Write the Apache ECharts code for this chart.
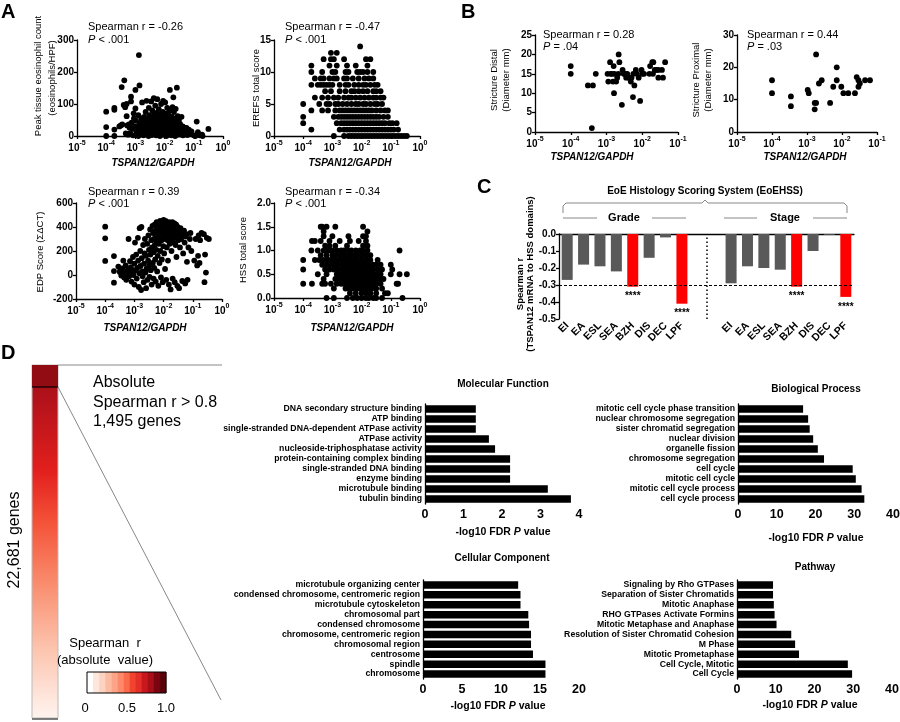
<!DOCTYPE html>
<html><head><meta charset="utf-8">
<script src="https://cdn.jsdelivr.net/npm/echarts@6/dist/echarts.min.js"></script>
<style>html,body{margin:0;padding:0;background:#fff}#c{width:900px;height:722px}</style>
</head><body><div id="c"></div>
<script>
// ================= DATA (x = log10 of TSPAN12/GAPDH) =================
const eosCount = [[-4,76],[-4,28],[-4,0],[-3.72,88],[-3.72,82],[-3.72,20],[-3.72,0],
[-3.55,30],[-3.5,33],[-3.47,153],[-3.45,36],[-3.4,97],[-3.38,174],[-3.35,90],[-3.33,8],[-3.3,100],[-3.3,62],[-3.28,33],[-3.25,4],[-3.22,36],[-3.2,26],[-3.18,9],[-3.15,123],[-3.15,108],[-3.13,42],[-3.1,22],[-3.08,2],[-3.06,71],[-3.05,55],[-3.02,30],[-3.0,144],[-3.0,86],[-2.98,48],[-2.96,14],[-2.94,30],[-2.92,10],[-2.9,0],[-2.9,65],
[-2.88,253],[-2.86,158],[-2.85,40],[-2.84,22],[-2.82,5],[-2.8,55],[-2.79,35],[-2.77,105],[-2.76,18],[-2.74,48],[-2.72,2],[-2.71,28],[-2.7,60],[-2.68,12],[-2.67,42],[-2.65,75],[-2.64,25],[-2.62,110],[-2.61,6],[-2.6,36],[-2.58,52],[-2.57,18],[-2.55,0],[-2.54,88],[-2.53,30],[-2.52,65],[-2.5,10],[-2.49,45],[-2.48,22],[-2.46,108],[-2.45,58],[-2.44,3],[-2.43,35],[-2.42,80],[-2.41,15],[-2.4,48],[-2.38,26],[-2.37,118],[-2.36,66],[-2.35,8],[-2.34,40],[-2.33,20],[-2.32,95],[-2.31,55],[-2.3,30],[-2.29,2],[-2.28,72],[-2.27,45],[-2.26,14],[-2.25,115],[-2.24,35],[-2.23,60],[-2.22,5],[-2.21,25],[-2.2,84],[-2.19,50],[-2.18,18],[-2.17,38],[-2.16,0],[-2.15,68],[-2.14,28],[-2.13,10],[-2.12,100],[-2.11,45],[-2.1,58],[-2.09,20],[-2.08,33],[-2.07,4],[-2.06,75],[-2.05,110],[-2.04,42],[-2.03,12],[-2.02,28],[-2.01,62],[-2.0,50],[-1.99,8],[-1.98,105],[-1.97,36],[-1.96,18],[-1.95,70],[-1.94,0],[-1.93,46],[-1.92,25],[-1.91,88],[-1.9,55],[-1.89,12],[-1.88,32],[-1.87,66],[-1.86,5],[-1.85,40],[-1.84,20],[-1.83,80],[-1.82,144],[-1.81,28],[-1.8,52],[-1.79,10],[-1.78,35],[-1.77,2],[-1.76,60],[-1.75,22],[-1.74,44],[-1.73,90],[-1.72,15],[-1.71,30],[-1.7,121],[-1.69,6],[-1.68,75],[-1.67,38],[-1.66,18],[-1.65,55],[-1.64,0],[-1.63,28],[-1.62,85],[-1.61,12],[-1.6,45],[-1.59,22],[-1.58,151],[-1.57,35],[-1.56,4],[-1.55,62],[-1.54,18],[-1.53,30],[-1.52,8],[-1.51,50],[-1.5,25],[-1.48,14],[-1.47,38],[-1.45,5],[-1.43,22],[-1.42,60],[-1.4,10],[-1.38,30],[-1.37,2],[-1.35,18],[-1.33,26],[-1.3,8],[-1.28,15],[-1.25,25],[-1.22,3],[-1.2,12],[-1.17,20],[-1.12,6],[-1.08,14],[-1.0,2],[-0.95,0],[-0.9,45],[-0.86,12],[-0.83,6],[-0.8,2],[-0.72,4],[-0.7,0],[-0.5,22]];

// EREFS total score: rows of [score, x positions]
const erefsRows = [
 [14,[-2.05]],
 [13,[-3.05,-2.85]],
 [12,[-3.3,-3.05,-2.95,-2.6,-1.85,-1.7]],
 [11,[-3.72,-3.1,-2.85,-2.5,-2.2,-1.8]],
 [10,[-3.72,-3.35,-3.0,-2.9,-2.55,-2.45,-2.15,-2.05,-1.95,-1.8,-1.6]],
 [9,[-3.6,-3.4,-3.3,-3.1,-2.95,-2.85,-2.6,-2.5,-2.3,-2.1,-1.9,-1.75,-1.6]],
 [8,[-3.72,-3.5,-3.4,-3.3,-3.2,-3.1,-3.0,-2.75,-2.55,-2.45,-2.25,-2.1,-1.95,-1.85,-1.7,-1.55,-1.45]],
 [7,[-3.25,-3.05,-2.75,-2.55,-2.35,-2.25,-2.1,-1.95,-1.8,-1.6,-1.5,-1.35]],
 [6,[-3.6,-3.35,-3.15,-2.95,-2.8,-2.6,-2.45,-2.35,-2.2,-2.05,-1.9,-1.75,-1.6,-1.5,-1.35,-1.25]],
 [5,[-4.0,-3.45,-3.2,-3.1,-2.9,-2.8,-2.65,-2.5,-2.35,-2.2,-2.1,-1.95,-1.85,-1.7,-1.55,-1.45,-1.3]],
 [4,[-3.72,-3.35,-3.15,-2.9,-2.75,-2.65,-2.55,-2.45,-2.35,-2.25,-2.15,-2.05,-1.95,-1.85,-1.75,-1.65,-1.5,-1.35,-1.2,-1.1]],
 [3,[-4.0,-2.95,-2.8,-2.7,-2.6,-2.5,-2.4,-2.3,-2.2,-2.1,-2.0,-1.9,-1.8,-1.7,-1.6,-1.5,-1.4,-1.25,-1.1]],
 [2,[-4.0,-2.85,-2.7,-2.6,-2.5,-2.4,-2.3,-2.2,-2.1,-2.0,-1.9,-1.8,-1.7,-1.6,-1.5,-1.4,-1.3,-1.2,-1.05,-0.95,-0.8]],
 [1,[-3.72,-2.75,-2.6,-2.5,-2.4,-2.3,-2.2,-2.1,-2.0,-1.9,-1.8,-1.7,-1.6,-1.5,-1.4,-1.3,-1.2,-1.1,-1.0,-0.9,-0.75]],
 [0,[-2.95,-2.6,-2.45,-2.35,-2.25,-2.15,-2.05,-1.95,-1.85,-1.75,-1.65,-1.55,-1.45,-1.35,-1.25,-1.15,-1.05,-0.95,-0.85,-0.75,-0.65,-0.55,-0.45]]
];

const edpScore = [[-4,403],[-4,306],[-4,117],[-3.7,158],[-3.7,33],[-3.7,-64],[-3.55,70],[-3.5,25],[-3.48,40],[-3.45,-5],[-3.42,55],[-3.4,10],[-3.38,120],[-3.35,-20],[-3.33,30],[-3.3,80],[-3.28,-40],[-3.25,5],[-3.22,45],[-3.2,300],[-3.18,-10],[-3.15,115],[-3.15,20],[-3.12,65],[-3.1,-55],[-3.08,35],[-3.05,150],[-3.03,0],[-3.0,95],[-3.0,-80],[-2.98,270],[-2.96,40],[-2.94,170],[-2.92,-30],[-2.9,60],[-2.88,310],[-2.87,120],[-2.85,-100],[-2.83,15],[-2.82,390],[-2.8,200],[-2.79,75],[-2.77,-125],[-2.76,400],[-2.75,140],[-2.73,30],[-2.72,-10],[-2.7,250],[-2.68,-60],[-2.67,95],[-2.65,180],[-2.64,300],[-2.62,20],[-2.6,-110],[-2.6,160],[-2.58,55],[-2.56,260],[-2.55,-40],[-2.53,120],[-2.52,330],[-2.5,210],[-2.49,80],[-2.48,-15],[-2.46,380],[-2.45,170],[-2.44,40],[-2.42,290],[-2.41,-80],[-2.4,230],[-2.38,410],[-2.37,100],[-2.36,350],[-2.35,190],[-2.34,-30],[-2.33,300],[-2.32,60],[-2.31,420],[-2.3,250],[-2.29,130],[-2.28,370],[-2.27,-55],[-2.26,320],[-2.25,210],[-2.24,440],[-2.23,280],[-2.22,30],[-2.21,390],[-2.2,160],[-2.19,340],[-2.18,-90],[-2.17,430],[-2.16,260],[-2.15,380],[-2.14,100],[-2.13,310],[-2.12,450],[-2.11,200],[-2.1,360],[-2.09,-20],[-2.08,410],[-2.07,290],[-2.06,130],[-2.05,440],[-2.04,350],[-2.03,-60],[-2.02,390],[-2.01,240],[-2.0,460],[-1.99,320],[-1.98,180],[-1.97,420],[-1.96,370],[-1.95,50],[-1.94,300],[-1.93,450],[-1.92,400],[-1.91,-40],[-1.9,340],[-1.89,230],[-1.88,430],[-1.87,380],[-1.86,290],[-1.85,120],[-1.84,410],[-1.83,360],[-1.82,-80],[-1.81,440],[-1.8,320],[-1.79,260],[-1.78,400],[-1.77,370],[-1.76,-120],[-1.75,340],[-1.74,420],[-1.73,200],[-1.72,390],[-1.71,300],[-1.7,440],[-1.69,-30],[-1.68,350],[-1.67,410],[-1.66,270],[-1.65,380],[-1.64,320],[-1.63,430],[-1.62,-60],[-1.61,360],[-1.6,400],[-1.59,250],[-1.58,340],[-1.57,420],[-1.56,150],[-1.55,380],[-1.54,310],[-1.53,-90],[-1.52,400],[-1.51,350],[-1.5,290],[-1.48,370],[-1.47,-110],[-1.45,330],[-1.44,230],[-1.42,390],[-1.4,300],[-1.38,360],[-1.36,-50],[-1.35,340],[-1.33,180],[-1.3,370],[-1.28,270],[-1.26,-70],[-1.25,320],[-1.22,340],[-1.2,110],[-1.18,-40],[-1.15,230],[-1.1,300],[-1.08,350],[-1.05,200],[-0.95,120],[-0.9,300],[-0.85,80],[-0.82,160],[-0.8,330],[-0.77,100],[-0.75,290],[-0.7,350],[-0.62,340],[-0.6,-60],[-0.58,170],[-0.55,20],[-0.52,310],[-0.45,300]];

// HSS total score: rows of [score, x positions]
const hssRows = [
 [1.5,[-3.4,-3.35,-3.2,-2.9,-1.95]],
 [1.4,[-3.3,-1.8]],
 [1.3,[-3.3,-3.0,-2.45,-1.95,-1.85]],
 [1.2,[-3.7,-3.6,-3.4,-3.1,-2.75,-2.4,-2.1,-1.85]],
 [1.1,[-3.25,-3.1,-2.9,-2.5,-1.95,-1.8]],
 [1.0,[-3.72,-3.5,-3.3,-3.2,-3.1,-3.0,-2.85,-2.7,-2.6,-2.45,-2.35,-2.2,-2.05,-1.95,-1.8,-0.7]],
 [0.9,[-3.4,-3.2,-3.0,-2.9,-2.75,-2.6,-2.5,-2.4,-2.25,-2.15,-2.0,-1.85,-1.7]],
 [0.8,[-4.0,-3.6,-3.45,-3.3,-3.15,-3.05,-2.95,-2.8,-2.7,-2.6,-2.5,-2.4,-2.3,-2.2,-2.1,-2.0,-1.9,-1.8,-1.7,-1.45]],
 [0.7,[-3.35,-3.2,-3.05,-2.9,-2.8,-2.65,-2.55,-2.45,-2.35,-2.25,-2.15,-2.05,-1.95,-1.85,-1.75,-1.6,-1.5,-1.35,-1.0]],
 [0.6,[-4.0,-3.25,-3.1,-2.95,-2.85,-2.7,-2.6,-2.5,-2.4,-2.3,-2.2,-2.1,-2.0,-1.9,-1.8,-1.7,-1.6,-1.45,-1.3,-0.95]],
 [0.5,[-3.5,-3.2,-2.85,-2.75,-2.65,-2.55,-2.45,-2.35,-2.25,-2.15,-2.05,-1.95,-1.85,-1.75,-1.65,-1.55,-1.45,-1.35,-1.0,-0.7,-0.45]],
 [0.4,[-3.3,-2.9,-2.75,-2.65,-2.55,-2.45,-2.35,-2.25,-2.15,-2.05,-1.95,-1.85,-1.75,-1.65,-1.55,-1.4,-1.25]],
 [0.3,[-4.0,-3.7,-3.35,-3.25,-3.05,-2.85,-2.7,-2.6,-2.5,-2.4,-2.3,-2.2,-2.1,-2.0,-1.9,-1.8,-1.7,-1.6,-1.5,-1.35,-0.8,-0.75]],
 [0.2,[-2.95,-2.55,-2.45,-2.35,-2.25,-2.15,-2.05,-1.95,-1.85,-1.75,-1.65,-1.5,-1.3]],
 [0.1,[-2.4,-2.2,-2.0,-1.85,-1.7,-1.5,-1.2,-1.1]],
 [0.0,[-3.2,-2.95,-2.5,-2.3,-2.15,-2.0,-1.85,-1.75,-1.6,-1.5,-1.3,-0.6]]
];

const strictureDistal = [[-4.0,17],[-4.0,15],[-3.52,12],[-3.38,12],[-3.3,15],[-3.41,1],[-2.97,15],[-2.95,13],[-2.9,18],[-2.88,15],[-2.85,15],[-2.82,13],[-2.8,17],[-2.78,15],[-2.79,10],[-2.73,13],[-2.7,14],[-2.67,15],[-2.66,20],[-2.64,18],[-2.57,7],[-2.55,16],[-2.52,15],[-2.48,15],[-2.45,14],[-2.42,15],[-2.38,14],[-2.32,13],[-2.3,14],[-2.25,15],[-2.22,12],[-2.26,9],[-2.18,16],[-2.15,15],[-2.1,14],[-2.06,8],[-2.02,16],[-2.0,15],[-1.95,15],[-1.8,15],[-1.78,17],[-1.72,18],[-1.69,18],[-1.7,15],[-1.65,16],[-1.6,16],[-1.55,16],[-1.55,14],[-1.45,16],[-1.42,14],[-1.36,18]];
const strictureProximal = [[-4.0,16],[-4.0,12],[-3.46,11],[-3.46,8],[-2.98,13],[-2.95,12],[-2.78,9],[-2.74,9],[-2.78,7],[-2.74,24],[-2.66,15],[-2.58,16],[-2.34,9],[-2.25,14],[-2.15,20],[-2.15,16],[-2.02,14],[-1.96,12],[-1.82,12],[-1.63,12],[-1.58,17],[-1.53,14],[-1.53,16],[-1.49,15],[-1.34,16],[-1.2,16]];

const hssDomains = ['EI','EA','ESL','SEA','BZH','DIS','DEC','LPF'];
const gradeR = [-0.27,-0.18,-0.19,-0.22,-0.31,-0.14,-0.02,-0.41];
const stageR = [-0.29,-0.19,-0.20,-0.21,-0.31,-0.10,-0.005,-0.37];
const gradeSig = ['','','','','****','','','****'];
const stageSig = ['','','','','****','','','****'];
const rThreshold = -0.3;

const mfTerms = ['DNA secondary structure binding','ATP binding','single-stranded DNA-dependent ATPase activity','ATPase activity','nucleoside-triphosphatase activity','protein-containing complex binding','single-stranded DNA binding','enzyme binding','microtubule binding','tubulin binding'];
const mfValues = [1.32,1.32,1.32,1.66,1.82,2.21,2.21,2.21,3.19,3.79];
const bpTerms = ['mitotic cell cycle phase transition','nuclear chromosome segregation','sister chromatid segregation','nuclear division','organelle fission','chromosome segregation','cell cycle','mitotic cell cycle','mitotic cell cycle process','cell cycle process'];
const bpValues = [16.8,18.1,18.5,19.4,20.6,22.2,29.6,30.4,31.9,32.6];
const ccTerms = ['microtubule organizing center','condensed chromosome, centromeric region','microtubule cytoskeleton','chromosomal part','condensed chromosome','chromosome, centromeric region','chromosomal region','centrosome','spindle','chromosome'];
const ccValues = [12.2,12.5,12.5,13.5,13.6,13.85,13.85,14.1,15.7,15.7];
const pwTerms = ['Signaling by Rho GTPases','Separation of Sister Chromatids','Mitotic Anaphase','RHO GTPases Activate Formins','Mitotic Metaphase and Anaphase','Resolution of Sister Chromatid Cohesion','M Phase','Mitotic Prometaphase','Cell Cycle, Mitotic','Cell Cycle'];
const pwValues = [9.3,9.3,9.5,9.7,10.2,14.0,15.0,16.0,28.6,29.7];

// ================= CHART =================
const F = '"Liberation Sans", Arial, Helvetica, sans-serif';
const chart = echarts.init(document.getElementById('c'), null, {renderer:'canvas', width:900, height:722});

const rowsToPts = rows => rows.flatMap(([y, xs]) => xs.map(x => [x, y]));

const grids = [
 {left:77, top:40, width:146, height:96},
 {left:274, top:40, width:146, height:96},
 {left:76, top:203, width:146, height:96},
 {left:274, top:203, width:146, height:95},
 {left:535, top:35, width:143, height:97},
 {left:737, top:35, width:140, height:97},
 {left:559, top:234, width:295, height:85},
 {left:425, top:404, width:154, height:100},
 {left:738, top:404, width:155, height:100},
 {left:423, top:580, width:156, height:99},
 {left:737, top:580, width:155, height:99}
].map(g => Object.assign({containLabel:false, outerBoundsMode:'none'}, g));

const AX = {color:'#000', width:1.3};
const supRich = {
  b:{fontFamily:F, fontSize:10, fontWeight:'bold', color:'#000', verticalAlign:'bottom', lineHeight:13},
  s:{fontFamily:F, fontSize:7, fontWeight:'bold', color:'#000', verticalAlign:'top', lineHeight:13}
};
function logX(gi, max) {
  return {type:'value', gridIndex:gi, min:-5, max:max, interval:1,
    axisLine:{onZero:false, lineStyle:AX}, axisTick:{length:3, lineStyle:AX}, splitLine:{show:false},
    axisLabel:{margin:4, showMinLabel:true, showMaxLabel:true, formatter: v => '{b|10}{s|' + Math.round(v) + '}', rich:supRich}};
}
function linY(gi, min, max, interval, dec) {
  return {type:'value', gridIndex:gi, min, max, interval,
    axisLine:{show:true, onZero:false, lineStyle:AX}, axisTick:{show:true, length:3, lineStyle:AX}, splitLine:{show:false},
    axisLabel:{margin:3, showMinLabel:true, showMaxLabel:true, color:'#000', fontFamily:F, fontSize:10, fontWeight:'bold',
      formatter: v => dec ? v.toFixed(dec) : String(v)}};
}
function barX(gi, max, interval) {
  return {type:'value', gridIndex:gi, min:0, max, interval,
    axisLine:{onZero:false, lineStyle:AX}, axisTick:{length:4, lineStyle:AX}, splitLine:{show:false},
    axisLabel:{margin:4, showMinLabel:true, showMaxLabel:true, color:'#000', fontFamily:F, fontSize:12.5, fontWeight:'bold'}};
}
function catY(gi, terms) {
  return {type:'category', gridIndex:gi, data:terms, inverse:true,
    axisLine:{lineStyle:AX}, axisTick:{alignWithLabel:true, length:3, lineStyle:AX}, splitLine:{show:false},
    axisLabel:{margin:3, interval:0, color:'#000', fontFamily:F, fontSize:8.7, fontWeight:'bold'}};
}

const cCats = [...hssDomains, '', ' ', ...hssDomains];
const cVals = [...gradeR, null, null, ...stageR];
const cSig = [...gradeSig, '', '', ...stageSig];
const cData = cVals.map((v, i) => v == null ? null : ({
  value: v,
  itemStyle: {color: cSig[i] ? '#ff0000' : '#595959'},
  label: {show: !!cSig[i], formatter: cSig[i]}
}));

const xAxes = [
  logX(0, 0), logX(1, 0), logX(2, 0), logX(3, 0), logX(4, -1), logX(5, -1),
  {type:'category', gridIndex:6, data:cCats, position:'bottom', axisLine:{show:false}, axisTick:{show:false},
    axisLabel:{interval:0, rotate:45, margin:5, color:'#000', fontFamily:F, fontSize:10.5, fontWeight:'bold'}},
  {type:'category', gridIndex:6, data:cCats, position:'top', axisLine:{show:true, onZero:false, lineStyle:AX}, axisTick:{show:false}, axisLabel:{show:false}},
  barX(7, 4, 1), barX(8, 40, 10), barX(9, 20, 5), barX(10, 40, 10),
  {type:'value', gridIndex:6, min:0, max:cCats.length, show:false}
];
const yAxes = [
  linY(0, 0, 300, 100), linY(1, 0, 15, 5), linY(2, -200, 600, 200), linY(3, 0, 2, 0.5, 1),
  linY(4, 0, 25, 5), linY(5, 0, 30, 10),
  linY(6, -0.5, 0, 0.1, 1),
  catY(7, mfTerms), catY(8, bpTerms), catY(9, ccTerms), catY(10, pwTerms)
];

const scat = (i, data) => ({type:'scatter', xAxisIndex:i, yAxisIndex:i, data, symbolSize:5.8, itemStyle:{color:'#000', opacity:1}, silent:true});
const hbar = (xi, yi, vals) => ({type:'bar', xAxisIndex:xi, yAxisIndex:yi, data:vals, barWidth:7.5, itemStyle:{color:'#000'}, silent:true});

const series = [
  scat(0, eosCount), scat(1, rowsToPts(erefsRows)), scat(2, edpScore), scat(3, rowsToPts(hssRows)),
  scat(4, strictureDistal), scat(5, strictureProximal),
  {type:'bar', xAxisIndex:6, yAxisIndex:6, data:cData, barWidth:11, silent:true,
    label:{position:'bottom', distance:5, color:'#000', fontFamily:F, fontSize:10, fontWeight:'bold'},
    markLine:{symbol:'none', silent:true, label:{show:false}, lineStyle:{type:[3,2], color:'#000', width:1}, data:[{yAxis:rThreshold}]}},
  {type:'line', xAxisIndex:12, yAxisIndex:6, data:[], silent:true,
    markLine:{symbol:'none', silent:true, label:{show:false}, lineStyle:{type:[1.5,2.5], color:'#000', width:1.5}, data:[{xAxis: hssDomains.length + 1}]}},
  hbar(8, 7, mfValues), hbar(9, 8, bpValues), hbar(10, 9, ccValues), hbar(11, 10, pwValues)
];

// ---------- graphic (text & decorations) ----------
function txt(x, y, text, o) {
  o = o || {};
  const st = {text, fill:'#000', fontFamily:F, fontSize:o.size || 10, fontWeight:o.bold ? 'bold' : 'normal',
    fontStyle:o.italic ? 'italic' : 'normal', align:o.align || 'left', textAlign:o.align || 'left',
    verticalAlign:'middle', textVerticalAlign:'middle'};
  if (o.rich) st.rich = o.rich;
  return {type:'text', x, y, rotation:o.rot || 0, silent:true, z:100, style:st};
}
function ln(x1, y1, x2, y2, stroke, w) {
  return {type:'line', silent:true, z:100, shape:{x1, y1, x2, y2}, style:{stroke: stroke || '#000', lineWidth: w || 1}};
}
const pRich = (size) => ({i:{fontFamily:F, fontSize:size, fontStyle:'italic', color:'#000'}, n:{fontFamily:F, fontSize:size, color:'#000'}});
const fdrRich = {b:{fontFamily:F, fontSize:10.5, fontWeight:'bold', color:'#000'}, i:{fontFamily:F, fontSize:10.5, fontWeight:'bold', fontStyle:'italic', color:'#000'}};
const R90 = Math.PI / 2;

const graphics = [
  txt(1, 12, 'A', {size:20, bold:true}),
  txt(461, 12, 'B', {size:20, bold:true}),
  txt(477, 187, 'C', {size:20, bold:true}),
  txt(1, 353, 'D', {size:20, bold:true}),
  // Panel A annotations
  txt(88, 27, 'Spearman r = -0.26', {size:11}), txt(88, 40, '{i|P}{n| < .001}', {size:11, rich:pRich(11)}),
  txt(285, 27, 'Spearman r = -0.47', {size:11}), txt(285, 40, '{i|P}{n| < .001}', {size:11, rich:pRich(11)}),
  txt(88, 192, 'Spearman r = 0.39', {size:11}), txt(88, 204, '{i|P}{n| < .001}', {size:11, rich:pRich(11)}),
  txt(285, 192, 'Spearman r = -0.34', {size:11}), txt(285, 204, '{i|P}{n| < .001}', {size:11, rich:pRich(11)}),
  txt(153, 163, 'TSPAN12/GAPDH', {bold:true, italic:true, align:'center'}),
  txt(350, 163, 'TSPAN12/GAPDH', {bold:true, italic:true, align:'center'}),
  txt(145, 328, 'TSPAN12/GAPDH', {bold:true, italic:true, align:'center'}),
  txt(352, 328, 'TSPAN12/GAPDH', {bold:true, italic:true, align:'center'}),
  txt(38, 76, 'Peak tissue eosinophil count', {size:9.5, align:'center', rot:R90}),
  txt(52, 78, '(eosinophils/HPF)', {size:9.5, align:'center', rot:R90}),
  txt(256, 88, 'EREFS total score', {size:9.5, align:'center', rot:R90}),
  txt(40, 252, 'EDP Score (ΣΔCT)', {size:9.5, align:'center', rot:R90}),
  txt(243, 250, 'HSS total score', {size:9.5, align:'center', rot:R90}),
  // Panel B
  txt(543, 35, 'Spearman r = 0.28', {size:11}), txt(543, 47, '{i|P}{n| = .04}', {size:11, rich:pRich(11)}),
  txt(747, 35, 'Spearman r = 0.44', {size:11}), txt(747, 47, '{i|P}{n| = .03}', {size:11, rich:pRich(11)}),
  txt(592, 157, 'TSPAN12/GAPDH', {bold:true, italic:true, align:'center'}),
  txt(805, 157, 'TSPAN12/GAPDH', {bold:true, italic:true, align:'center'}),
  txt(494, 80, 'Stricture Distal', {size:9.5, align:'center', rot:R90}),
  txt(506, 80, '(Diameter mm)', {size:9.5, align:'center', rot:R90}),
  txt(696, 80, 'Stricture Proximal', {size:9.5, align:'center', rot:R90}),
  txt(708, 80, '(Diameter mm)', {size:9.5, align:'center', rot:R90}),
  // Panel C
  txt(705, 191, 'EoE Histology Scoring System (EoEHSS)', {bold:true, align:'center'}),
  {type:'polyline', silent:true, z:100, shape:{points:[[563,213],[563,206],[566,203],[702,203],[705,200],[708,203],[844,203],[847,206],[847,213]]}, style:{stroke:'#888', fill:null, lineWidth:1}},
  txt(624, 218, 'Grade', {size:11, bold:true, align:'center'}),
  txt(785, 218, 'Stage', {size:11, bold:true, align:'center'}),
  ln(563, 218, 597, 218, '#888'), ln(652, 218, 686, 218, '#888'),
  ln(724, 218, 757, 218, '#888'), ln(813, 218, 847, 218, '#888'),
  txt(520, 284, 'Spearman r', {size:9.5, bold:true, align:'center', rot:R90}),
  txt(530, 274, '(TSPAN12 mRNA to HSS domains)', {size:9.5, bold:true, align:'center', rot:R90}),
  // Panel D titles
  txt(503, 384, 'Molecular Function', {bold:true, align:'center'}),
  txt(816, 389, 'Biological Process', {bold:true, align:'center'}),
  txt(502, 558, 'Cellular Component', {bold:true, align:'center'}),
  txt(815, 567, 'Pathway', {bold:true, align:'center'}),
  txt(503, 532, '{b|-log10 FDR }{i|P}{b| value}', {align:'center', rich:fdrRich}),
  txt(816, 538, '{b|-log10 FDR }{i|P}{b| value}', {align:'center', rich:fdrRich}),
  txt(498, 706, '{b|-log10 FDR }{i|P}{b| value}', {align:'center', rich:fdrRich}),
  txt(810, 705, '{b|-log10 FDR }{i|P}{b| value}', {align:'center', rich:fdrRich}),
  // Heat bar
  {type:'rect', silent:true, z:90, shape:{x:32, y:365, width:26, height:353},
    style:{stroke:'#bbb', lineWidth:1, fill:{type:'linear', x:0, y:0, x2:0, y2:1, colorStops:[
      {offset:0, color:'#9a0d16'},{offset:0.1, color:'#b3121b'},{offset:0.3, color:'#e21f1d'},{offset:0.45, color:'#f4543a'},
      {offset:0.62, color:'#f98d6e'},{offset:0.8, color:'#fcc3ad'},{offset:1, color:'#fff4ef'}]}}},
  {type:'rect', silent:true, z:91, shape:{x:32, y:365, width:26, height:22}, style:{fill:'#920c14'}},
  ln(32, 387, 58, 387, '#000', 1.2),
  ln(32, 719, 58, 719, '#555', 1.5),
  ln(58, 365, 222, 365, '#888'),
  ln(58, 387, 221, 700, '#888'),
  txt(93, 383, 'Absolute', {size:16}),
  txt(93, 403, 'Spearman r > 0.8', {size:16}),
  txt(93, 422, '1,495 genes', {size:16}),
  txt(15, 540, '22,681 genes', {size:16, align:'center', rot:R90}),
  txt(105, 643, 'Spearman  r', {size:13, align:'center'}),
  txt(105, 660, '(absolute  value)', {size:13, align:'center'}),
  txt(85, 708, '0', {size:13, align:'center'}),
  txt(127, 708, '0.5', {size:13, align:'center'}),
  txt(166, 708, '1.0', {size:13, align:'center'})
];
const legendColors = ['#ffffff','#fee6dc','#fdd2c0','#fcbba1','#fca487','#fc8a6a','#fb6a4a','#f0442f','#e32f27','#c9181d','#a50f15','#7a0510','#5a0008'];
const cw = 79 / legendColors.length;
legendColors.forEach((c, i) => graphics.push({type:'rect', silent:true, z:92, shape:{x:87 + i * cw, y:672, width:cw + 0.4, height:21}, style:{fill:c}}));
graphics.push({type:'rect', silent:true, z:93, shape:{x:87, y:672, width:79, height:21}, style:{fill:null, stroke:'#000', lineWidth:1}});

chart.setOption({
  animation:false,
  backgroundColor:'#fff',
  textStyle:{fontFamily:F},
  grid:grids, xAxis:xAxes, yAxis:yAxes, series, graphic:graphics
});
</script></body></html>
